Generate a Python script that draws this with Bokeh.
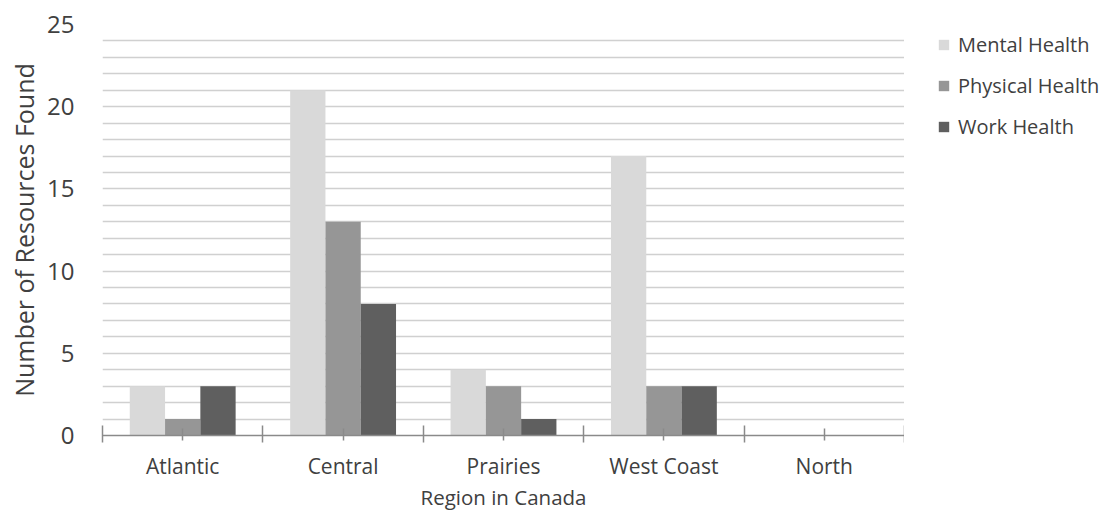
from bokeh.plotting import figure
from bokeh.layouts import row
from bokeh.models import Range1d, FixedTicker, SingleIntervalTicker, Legend, LegendItem
from bokeh.embed import file_html
from bokeh.resources import INLINE

regions = ["Atlantic", "Central", "Prairies", "West Coast", "North"]
mental = [3, 21, 4, 17, 0]
physical = [1, 13, 3, 3, 0]
work = [3, 8, 1, 3, 0]
series_names = ["Mental Health", "Physical Health", "Work Health"]
series_values = [mental, physical, work]
colors = ["#d9d9d9", "#969696", "#5f5f5f"]
offsets = [-0.22, 0.0, 0.22]

FONT = "Open Sans"
TXT = "#404040"

p = figure(frame_width=802, frame_height=411, output_backend="svg", toolbar_location=None,
           x_range=Range1d(0, len(regions)), y_range=Range1d(0, 25),
           min_border_left=102, min_border_right=0, min_border_top=24, min_border_bottom=60)
p.outline_line_color = None
p.background_fill_color = "white"

for name, vals, col, off in zip(series_names, series_values, colors, offsets):
    xs = [i + 0.5 + off for i in range(len(regions))]
    p.vbar(x=xs, top=vals, bottom=0, width=0.22, fill_color=col, line_color=None)

# grid
p.xgrid.visible = False
p.ygrid.ticker = SingleIntervalTicker(interval=1)
p.ygrid.grid_line_color = "#d0d0d0"
p.ygrid.grid_line_width = 1.5

# y axis
ya = p.yaxis[0]
ya.ticker = SingleIntervalTicker(interval=5, num_minor_ticks=0)
ya.axis_line_color = None
ya.major_tick_line_color = None
ya.minor_tick_line_color = None
ya.major_tick_out = 0
ya.major_tick_in = 0
ya.major_label_text_font = FONT
ya.major_label_text_font_size = "24px"
ya.major_label_text_color = TXT
ya.major_label_standoff = 28
ya.axis_label = "Number of Resources Found"
ya.axis_label_text_font = FONT
ya.axis_label_text_font_size = "25px"
ya.axis_label_text_font_style = "normal"
ya.axis_label_text_color = TXT
ya.axis_label_standoff = 3

# x axis
xa = p.xaxis[0]
centers = [i + 0.5 for i in range(len(regions))]
xa.ticker = FixedTicker(ticks=centers, minor_ticks=list(range(len(regions) + 1)))
xa.major_label_overrides = {c: lab for c, lab in zip(centers, regions)}
xa.axis_line_color = "#8a8a8a"
xa.axis_line_width = 1.5
xa.major_tick_line_color = "#8a8a8a"
xa.major_tick_line_width = 1.5
xa.minor_tick_line_color = "#8a8a8a"
xa.minor_tick_line_width = 1.5
xa.major_tick_in = 7
xa.major_tick_out = 5
xa.minor_tick_in = 10
xa.minor_tick_out = 7
xa.major_label_text_font = FONT
xa.major_label_text_font_size = "21px"
xa.major_label_text_color = TXT
xa.major_label_standoff = 9
xa.axis_label = "Region in Canada"
xa.axis_label_text_font = FONT
xa.axis_label_text_font_size = "20.5px"
xa.axis_label_text_font_style = "normal"
xa.axis_label_text_color = TXT
xa.axis_label_standoff = 0

# legend in its own narrow figure to the right of the plot
lg = figure(width=198, height=510, output_backend="svg", toolbar_location=None,
            min_border=0, x_range=Range1d(0, 1), y_range=Range1d(0, 1))
lg.axis.visible = False
lg.grid.visible = False
lg.outline_line_color = None
items = []
for name, col in zip(series_names, colors):
    r = lg.vbar(x=[0], top=[0], bottom=[0], width=0.0, fill_color=col, line_color=None)
    items.append(LegendItem(label=name, renderers=[r]))

legend = Legend(items=items, location=(33, 292), orientation="vertical",
                border_line_color=None, background_fill_alpha=0,
                padding=0, margin=0, spacing=14,
                glyph_width=13, glyph_height=13, label_height=27,
                label_standoff=8,
                label_text_font=FONT, label_text_font_size="20px", label_text_color=TXT)
lg.add_layout(legend, "center")

layout = row(p, lg, spacing=0)
open("out.html", "w").write(file_html(layout, INLINE))
